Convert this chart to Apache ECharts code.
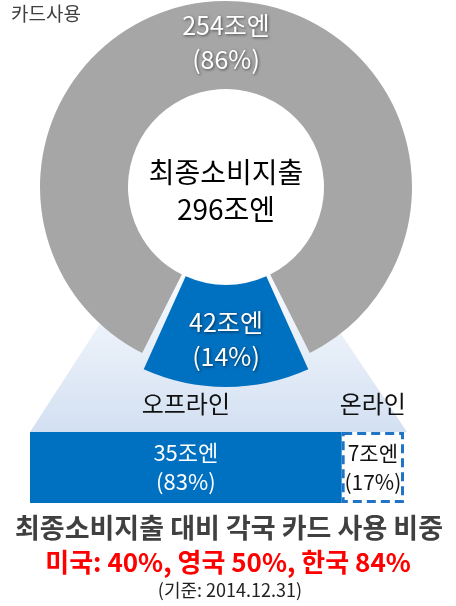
<!DOCTYPE html>
<html>
<head>
<meta charset="utf-8">
<script src="https://cdn.jsdelivr.net/npm/echarts@6/dist/echarts.min.js"></script>
<style>
html, body { margin: 0; padding: 0; background: #fff; }
#chart { width: 456px; height: 606px; }
</style>
</head>
<body>
<div id="chart"></div>
<script>
// 최종소비지출 구성 (조엔, %)
var ringNames = ['카드사용', '기타'];
var ringValues = [254, 42];
var ringPercents = [86, 14];
var ringTotal = 296;

// 42조엔 내역
var splitNames = ['오프라인', '온라인'];
var splitValues = [35, 7];
var splitPercents = [83, 17];

var FONT = 'Noto Sans CJK KR';
var GRAY = '#a6a6a6';
var BLUE = '#0070c0';

var chart = echarts.init(document.getElementById('chart'));

// 파란 조각이 아래 가운데에 오도록
var blueAngle = ringValues[1] / ringTotal * 360;
var start = 270 + blueAngle / 2;

function ringLabel(i) {
    return ringValues[i] + '조엔\n(' + ringPercents[i] + '%)';
}

var pieLabel = {
    show: true,
    position: 'inside',
    color: '#fff',
    fontFamily: FONT,
    fontSize: 25,
    lineHeight: 34,
    textShadowColor: 'rgba(0,0,0,0.55)',
    textShadowBlur: 3,
    textShadowOffsetX: 1,
    textShadowOffsetY: 1,
    formatter: function (p) { return ringLabel(p.data.idx); }
};

function txt(x, y, text, size, color, extra) {
    var style = {
        text: text, fill: color, fontFamily: FONT, fontSize: size,
        align: 'center', verticalAlign: 'middle', textAlign: 'center', textVerticalAlign: 'middle'
    };
    for (var k in extra) style[k] = extra[k];
    return { type: 'text', z: 100, x: x, y: y, silent: true, style: style };
}

var option = {
    animation: false,
    graphic: [
        {
            type: 'polygon', z: 0, silent: true,
            shape: { points: [[135, 270], [298, 270], [407, 432], [30, 432]] },
            style: {
                fill: new echarts.graphic.LinearGradient(0, 0, 0, 1, [
                    { offset: 0, color: '#fafcfe' },
                    { offset: 1, color: '#d3e0f2' }
                ])
            }
        },
        {
            type: 'circle', z: 1, silent: true,
            shape: { cx: 226, cy: 187, r: 97 },
            style: { fill: '#fff' }
        },
        txt(11, 14, '카드사용', 19, '#404040', { align: 'left', textAlign: 'left' }),
        txt(226, 191, '최종소비지출\n' + ringTotal + '조엔', 28, '#000', { lineHeight: 37 }),
        txt(229, 528, '최종소비지출 대비 각국 카드 사용 비중', 27, '#404040', { fontWeight: 'bold' }),
        txt(228, 562, '미국: 40%, 영국 50%, 한국 84%', 26, '#ff0000', { fontWeight: 'bold' }),
        txt(230, 590, '(기준: 2014.12.31)', 18, '#222', {})
    ],
    grid: { left: 30, right: 52, top: 432, height: 71 },
    xAxis: { type: 'value', min: 0, max: splitValues[0] + splitValues[1], show: false },
    yAxis: { type: 'category', data: ['42조엔'], show: false },
    series: [
        {
            // 회색 링
            type: 'pie',
            center: [226, 187],
            radius: [98, 186],
            startAngle: start,
            padAngle: 2.5,
            silent: true,
            labelLine: { show: false },
            label: pieLabel,
            data: [
                { idx: 1, name: ringNames[1], value: ringValues[1], itemStyle: { color: 'rgba(0,0,0,0)' }, label: { show: false } },
                { idx: 0, name: ringNames[0], value: ringValues[0], itemStyle: { color: GRAY }, label: { padding: [22, 0, 0, 0] } }
            ]
        },
        {
            // 파란 조각 (조금 더 바깥으로)
            type: 'pie',
            center: [226, 187],
            radius: [98, 200],
            startAngle: start,
            padAngle: 2.5,
            silent: true,
            labelLine: { show: false },
            label: pieLabel,
            data: [
                { idx: 1, name: ringNames[1], value: ringValues[1], itemStyle: { color: BLUE }, label: { padding: [16, 0, 0, 0] } },
                { idx: 0, name: ringNames[0], value: ringValues[0], itemStyle: { color: 'rgba(0,0,0,0)' }, label: { show: false } }
            ]
        },
        {
            name: splitNames[0],
            type: 'bar',
            stack: 'split',
            barWidth: 71,
            silent: true,
            itemStyle: { color: BLUE },
            label: {
                show: true, position: 'inside', color: '#fff', fontFamily: FONT, fontSize: 22, lineHeight: 29,
                formatter: splitValues[0] + '조엔\n(' + splitPercents[0] + '%)'
            },
            data: [splitValues[0]]
        },
        {
            name: splitNames[1],
            type: 'bar',
            stack: 'split',
            barWidth: 71,
            silent: true,
            itemStyle: { color: '#fff', borderColor: '#1f74c6', borderWidth: 3, borderType: [9, 5] },
            label: {
                show: true, position: 'inside', color: '#111', fontFamily: FONT, fontSize: 21, lineHeight: 29,
                formatter: splitValues[1] + '조엔\n(' + splitPercents[1] + '%)'
            },
            data: [splitValues[1]]
        }
    ]
};

chart.setOption(option);

// 막대 위 이름표: 각 구간 가운데에
var nameY = 404;
var p0 = chart.convertToPixel({ gridIndex: 0 }, [splitValues[0] / 2, 0]);
var p1 = chart.convertToPixel({ gridIndex: 0 }, [splitValues[0] + splitValues[1] / 2, 0]);
option.graphic.push(
    txt(p0[0], nameY, splitNames[0], 24, '#111', {}),
    txt(p1[0], nameY, splitNames[1], 24, '#111', {})
);
chart.setOption({ graphic: option.graphic });
</script>
</body>
</html>
